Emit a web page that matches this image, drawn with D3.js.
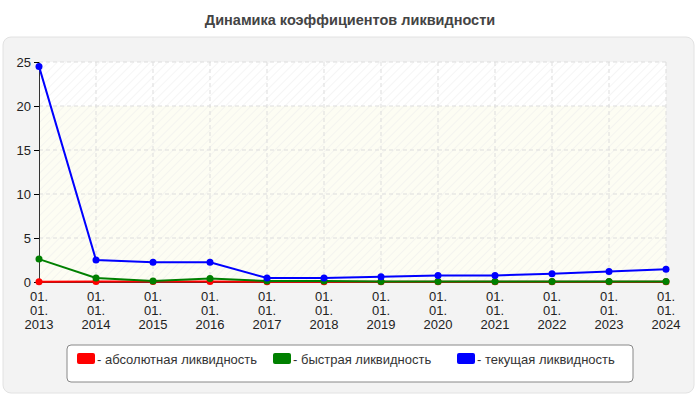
<!DOCTYPE html>
<html><head><meta charset="utf-8">
<script src="https://cdn.jsdelivr.net/npm/d3@7"></script>
<style>body{margin:0;background:#fff;font-family:Arial,"Liberation Sans",sans-serif}</style>
</head><body><svg id="c" width="700" height="400"></svg>
<script>
const years = ["2013","2014","2015","2016","2017","2018","2019","2020","2021","2022","2023","2024"];
const yTicks = [0, 5, 10, 15, 20, 25];
const absolute = [0.02, 0.05, 0.05, 0.05, 0.02, 0.02, 0.02, 0.02, 0.02, 0.02, 0.02, 0.02];
const quick = [2.6, 0.45, 0.1, 0.4, 0.1, 0.1, 0.05, 0.05, 0.05, 0.05, 0.05, 0.05];
const current = [24.5, 2.5, 2.25, 2.25, 0.45, 0.45, 0.6, 0.75, 0.75, 0.95, 1.2, 1.45];
const seriesNames = ["- абсолютная ликвидность", "- быстрая ликвидность", "- текущая ликвидность"];
const colors = ["#ff0000", "#008000", "#0000ff"];

const svg = d3.select("svg#c");
const defs = svg.append("defs");
const pat = defs.append("pattern").attr("id", "hatch").attr("width", 6).attr("height", 6)
  .attr("patternUnits", "userSpaceOnUse").attr("patternTransform", "rotate(45)");
pat.append("line").attr("x1", 0).attr("y1", 0).attr("x2", 0).attr("y2", 6).attr("stroke", "#ececec").attr("stroke-width", 1);

svg.append("text").text("Динамика коэффициентов ликвидности").attr("x", 350).attr("y", 25)
  .attr("text-anchor", "middle").attr("font-size", 14.5).attr("font-weight", "bold").attr("fill", "#444");
svg.append("rect").attr("x", 3).attr("y", 37).attr("width", 691).attr("height", 356).attr("rx", 8)
  .attr("fill", "#f3f3f3").attr("stroke", "#e2e2e2");

const x = d3.scalePoint().domain(years).range([39, 666]);
const y = d3.scaleLinear().domain([0, 25]).range([282, 62]);

// plot background
svg.append("rect").attr("x", 39).attr("y", y(25)).attr("width", 666 - 39).attr("height", y(0) - y(25)).attr("fill", "#fff");
svg.append("rect").attr("x", 39).attr("y", y(20)).attr("width", 666 - 39).attr("height", y(0) - y(20)).attr("fill", "#fdfdf3");
svg.append("rect").attr("x", 39).attr("y", y(25)).attr("width", 666 - 39).attr("height", y(0) - y(25)).attr("fill", "url(#hatch)");

// grid
svg.append("g").selectAll("line").data(yTicks.slice(1)).join("line")
  .attr("x1", 39).attr("x2", 666).attr("y1", d => y(d)).attr("y2", d => y(d))
  .attr("stroke", "#ddd").attr("stroke-dasharray", "4,3");
svg.append("g").selectAll("line").data(years.slice(1)).join("line")
  .attr("x1", d => x(d)).attr("x2", d => x(d)).attr("y1", y(25)).attr("y2", y(0))
  .attr("stroke", "#ddd").attr("stroke-dasharray", "4,3");

// axes
const yAxis = svg.append("g").attr("transform", "translate(39,0)")
  .call(d3.axisLeft(y).tickValues(yTicks).tickSize(5).tickSizeOuter(0));
yAxis.selectAll("text").attr("font-size", 13).attr("fill", "#222").attr("font-family", "Arial");
yAxis.select(".domain").attr("stroke", "#333");
const xAxis = svg.append("g").attr("transform", `translate(0,${y(0)})`)
  .call(d3.axisBottom(x).tickSize(0).tickFormat(""));
xAxis.select(".domain").attr("stroke", "#333");
const xl = svg.append("g").selectAll("text").data(years).join("text")
  .attr("x", d => x(d)).attr("y", 301).attr("text-anchor", "middle").attr("font-size", 13).attr("fill", "#222");
["01.", "01.", null].forEach((t, i) => {
  xl.append("tspan").attr("x", d => x(d)).attr("dy", i ? 14 : 0).text(d => t || d);
});

// lines
const line = d3.line().x((d, i) => x(years[i])).y(d => y(d));
[absolute, quick, current].forEach((s, k) => {
  const g = svg.append("g");
  g.append("path").datum(s).attr("d", line).attr("fill", "none").attr("stroke", colors[k]).attr("stroke-width", 2);
  g.selectAll("circle").data(s).join("circle").attr("cx", (d, i) => x(years[i])).attr("cy", d => y(d))
    .attr("r", 3.5).attr("fill", colors[k]);
});

// legend
svg.append("rect").attr("x", 67).attr("y", 345).attr("width", 566).attr("height", 37).attr("rx", 4)
  .attr("fill", "#fff").attr("stroke", "#888");
const lx = [77, 273, 457];
seriesNames.forEach((n, k) => {
  svg.append("rect").attr("x", lx[k]).attr("y", 353).attr("width", 18).attr("height", 11).attr("rx", 2).attr("fill", colors[k]);
  svg.append("text").text(n).attr("x", lx[k] + 20).attr("y", 364).attr("font-size", 13).attr("fill", "#333");
});
</script></body></html>
